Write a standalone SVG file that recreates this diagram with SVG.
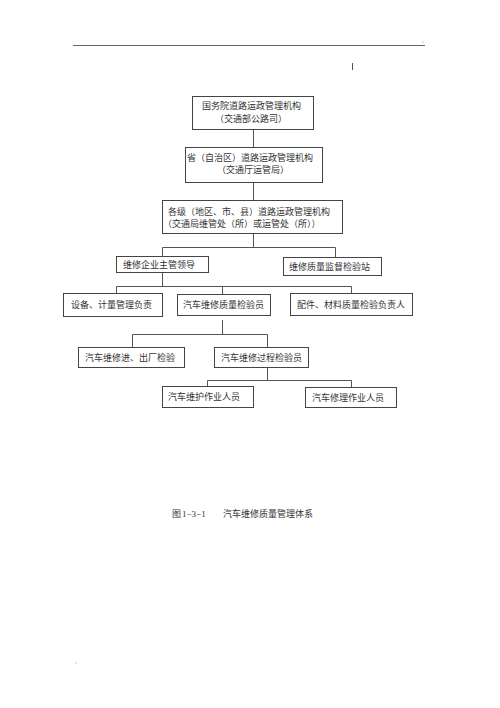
<svg xmlns="http://www.w3.org/2000/svg" width="500" height="708" viewBox="0 0 500 708">
<style>
.box{fill:#fff;stroke:#444;stroke-width:1}
.t{font-family:"Liberation Serif","Noto Sans CJK SC",serif;font-size:9px;fill:#333}
.c{fill:none;stroke:#555;stroke-width:1}
</style>
<rect width="500" height="708" fill="#fff"/>
<line x1="73" y1="45.5" x2="425" y2="45.5" stroke="#666" stroke-width="1"/>
<rect x="422.5" y="41.5" width="1" height="1" fill="#999"/>
<line x1="352.5" y1="63" x2="352.5" y2="70" stroke="#555" stroke-width="1"/>
<g id="connectors">
<path class="c" d="M253.5 129V147M253.5 182V200M253.5 233V247.5M162.5 247.5H335.5M162.5 247.5V256M335.5 247.5V257"/>
<path class="c" d="M162.5 272V286.5M116.5 286.5H351.5M116.5 286.5V293M222.5 286.5V294M351.5 286.5V293"/>
<path class="c" d="M222.5 320V334.5M132.5 334.5H267.5M132.5 334.5V347M267.5 334.5V347"/>
<path class="c" d="M267.5 367V380.5M207.5 380.5H351.5M207.5 380.5V386M351.5 380.5V387"/>
</g>
<g id="n1"><rect class="box" x="192.5" y="96.5" width="121" height="33"/>
<text class="t" x="202" y="109">国务院道路运政管理机构</text>
<text class="t" x="215" y="122">（交通部公路司）</text></g>
<g id="n2"><rect class="box" x="185.5" y="147.5" width="137" height="35"/>
<text class="t" x="187" y="161">省（自治区）道路运政管理机构</text>
<text class="t" x="217" y="173">（交通厅运管局）</text></g>
<g id="n3"><rect class="box" x="162.5" y="200.5" width="180" height="33"/>
<text class="t" x="168" y="215">各级（地区、市、县）道路运政管理机构</text>
<text class="t" x="163" y="227">（交通局维管处（所）或运管处（所））</text></g>
<g id="n4"><rect class="box" x="116.5" y="256.5" width="92" height="16"/>
<text class="t" x="123" y="268">维修企业主管领导</text></g>
<g id="n5"><rect class="box" x="283.5" y="257.5" width="98" height="18"/>
<text class="t" x="289" y="269.5">维修质量监督检验站</text></g>
<g id="n6"><rect class="box" x="63.5" y="293.5" width="99" height="23"/>
<text class="t" x="71" y="308">设备、计量管理负责</text></g>
<g id="n7"><rect class="box" x="177.5" y="294.5" width="93" height="21"/>
<text class="t" x="183" y="307.5">汽车维修质量检验员</text></g>
<g id="n8"><rect class="box" x="290.5" y="293.5" width="122" height="22"/>
<text class="t" x="297" y="307.5">配件、材料质量检验负责人</text></g>
<g id="n9"><rect class="box" x="78.5" y="347.5" width="106" height="20"/>
<text class="t" x="85" y="360.5">汽车维修进、出厂检验</text></g>
<g id="n10"><rect class="box" x="214.5" y="347.5" width="94" height="20"/>
<text class="t" x="221" y="360.5">汽车维修过程检验员</text></g>
<g id="n11"><rect class="box" x="162.5" y="386.5" width="91" height="21"/>
<text class="t" x="168" y="400">汽车维护作业人员</text></g>
<g id="n12"><rect class="box" x="305.5" y="387.5" width="91" height="20"/>
<text class="t" x="312" y="400.5">汽车修理作业人员</text></g>
<text class="t" y="517"><tspan x="172">图</tspan><tspan x="182">1−3−1</tspan><tspan x="223">汽车维修质量管理体系</tspan></text>
<rect x="75.5" y="662.5" width="1" height="1" fill="#888"/>
</svg>
